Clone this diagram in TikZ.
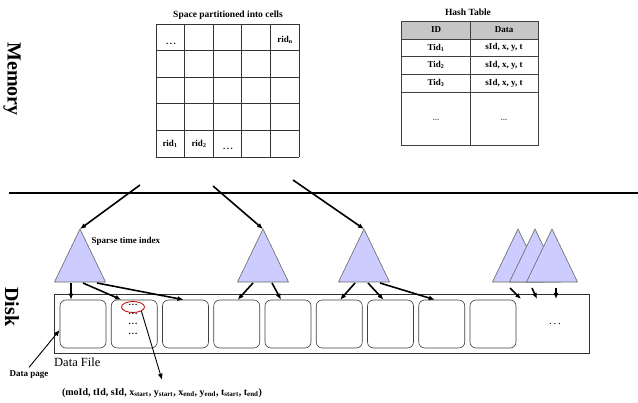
\documentclass[tikz,border=0pt]{standalone}
\usepackage{fontspec}
\setmainfont{Liberation Serif}
\usetikzlibrary{arrows.meta,shapes.geometric}

\tikzset{
  side/.style={font=\bfseries\fontsize{20}{20}\selectfont, rotate=-90, inner sep=0pt},
  title/.style={font=\bfseries\fontsize{9.5}{10}\selectfont, inner sep=0pt},
  cell/.style={font=\bfseries\fontsize{9}{10}\selectfont, inner sep=0.5pt},
  gridline/.style={draw=black!80, line width=0.8pt},
  tableline/.style={draw=black!75, line width=0.9pt},
  tree/.style={fill=blue!20, draw=black!60, line width=0.6pt},
  file/.style={draw=black!80, line width=0.6pt, minimum width=535pt, minimum height=59pt, inner sep=0pt},
  page/.style={draw=black!75, line width=0.6pt, rounded corners=6pt, minimum width=46pt, minimum height=48pt, inner sep=0pt},
  link/.style={->, line width=1.6pt},
  thinlink/.style={->, line width=0.9pt},
}

\begin{document}
\begin{tikzpicture}[x=1pt,y=-1pt,>={Latex[length=6pt,width=5pt]}]
  \useasboundingbox (0,0) rectangle (638,403);
  % memory / disk
  \node[side] (memory) at (12,79) {Memory};
  \node[side] (disk) at (12,307) {Disk};
  \coordinate (mem-l) at (9,193); \coordinate (mem-r) at (638,193);
  \draw[line width=2.6pt] (mem-l) -- (mem-r);
  % space partitioned into cells
  \node[title] (gtitle) at (228,15) {Space partitioned into cells};
  \foreach \i in {0,...,5} {
    \draw[gridline] (156+28.6*\i,24) -- (156+28.6*\i,157);
    \draw[gridline] (156,24+26.6*\i) -- (299,24+26.6*\i);
  }
  \node[cell] (c-dots1) at (171,44) {.\,.\,.};
  \node[cell] (c-ridn) at (285,40) {rid\textsubscript{n}};
  \node[cell] (c-rid1) at (170,144) {rid\textsubscript{1}};
  \node[cell] (c-rid2) at (199,144) {rid\textsubscript{2}};
  \node[cell] (c-dots2) at (228,149) {.\,.\,.};
  % hash table
  \node[title] (htitle) at (468,12) {Hash Table};
  \fill[gray!45] (401,21) rectangle (538,39);
  \draw[tableline] (401,21) rectangle (538,145);
  \draw[tableline] (470,21) -- (470,145);
  \foreach \y in {39,56,74,92} \draw[tableline] (401,\y) -- (538,\y);
  \node[cell] (h-id) at (436,30) {ID};
  \node[cell] (h-data) at (504,30) {Data};
  \foreach \r/\y in {1/47.5,2/65,3/83} {
    \node[cell] (h-tid\r) at (436,\y) {Tid\textsubscript{\r}};
    \node[cell] (h-val\r) at (504,\y) {sId, x, y, t};
  }
  \node[cell, text=black!55] (h-more1) at (436,120) {...};
  \node[cell, text=black!55] (h-more2) at (504,120) {...};
  % sparse time index trees
  \foreach \n/\x in {1/80,2/263,3/364,4/518,5/535,6/552} {
    \draw[tree] (\x,229) -- (\x+25.5,282) -- (\x-25.5,282) -- cycle;
    \coordinate (t\n) at (\x,229);
    \coordinate (t\n-base) at (\x,283);
  }
  \node[cell, anchor=west] (sti) at (91,241) {Sparse time index};
  \coordinate (m1) at (140,185);
  \coordinate (m2) at (213,186);
  \coordinate (m3) at (293,180);
  \draw[link] (m1) -- (t1);
  \draw[link] (m2) -- (t2);
  \draw[link] (m3) -- (t3);
  % data file and pages
  \node[file] (file) at (321.5,323.5) {};
  \foreach \i in {1,...,9}
    \node[page] (p\i) at (31.75+51.25*\i,324) {};
  \node[font=\fontsize{12.5}{13}\selectfont, anchor=west, inner sep=0pt] (dfile) at (54,362) {Data File};
  \node[font=\fontsize{11}{11}\selectfont] (fdots) at (555,324) {.\,.\,.};
  % tree pointers to pages
  \draw[link] ([xshift=-9pt]t1-base) -- ([xshift=-12pt]p1.north);
  \draw[link] ([xshift=3pt]t1-base) -- ([xshift=-13pt]p2.north);
  \draw[link] ([xshift=17pt]t1-base) -- ([xshift=-2pt]p3.north);
  \draw[link] ([xshift=-10pt]t2-base) -- ([xshift=1pt]p4.north);
  \draw[link] ([xshift=9pt]t2-base) -- ([xshift=-7pt]p5.north);
  \draw[link] ([xshift=-9pt]t3-base) -- ([xshift=1pt]p6.north);
  \draw[link] ([xshift=4pt]t3-base) -- ([xshift=-7pt]p7.north);
  \draw[link] ([xshift=16pt]t3-base) -- ([xshift=-7pt]p8.north);
  \coordinate (g1) at (521,299); \coordinate (g2) at (537,299); \coordinate (g3) at (556,299);
  \draw[link] ([xshift=-8pt,yshift=-5pt]t4-base) -- (g1);
  \draw[link] ([xshift=-3pt,yshift=-5pt]t5-base) -- (g2);
  \draw[link] ([xshift=4pt,yshift=-5pt]t6-base) -- (g3);
  % records of a page
  \foreach \k/\y in {1/305,2/314,3/324,4/334}
    \node[cell] (r\k) at (133,\y) {.\kern1pt.\kern1pt.};
  \node[draw=red!75!black, line width=0.8pt, ellipse, minimum width=23pt, minimum height=11pt, inner sep=0pt] (sel) at (133,307) {};
  \node[cell, font=\bfseries\fontsize{10}{11}\selectfont] (tuple) at (162,393) {(moId, tId, sId, x\textsubscript{start}, y\textsubscript{start}, x\textsubscript{end}, y\textsubscript{end}, t\textsubscript{start}, t\textsubscript{end})};
  \draw[thinlink] (sel.south east) -- ([yshift=8pt]tuple.north);
  \node[cell] (dpage) at (29,375) {Data page};
  \draw[thinlink] ([yshift=3pt]dpage.north) -- ([yshift=-6pt]p1.west);
\end{tikzpicture}
\end{document}
